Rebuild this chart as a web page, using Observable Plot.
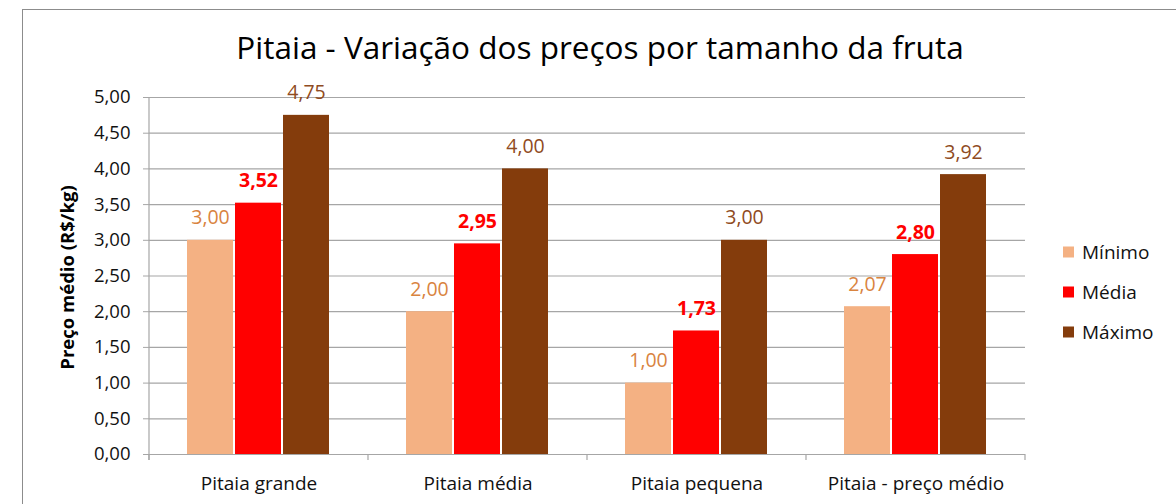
<!DOCTYPE html>
<html><head><meta charset="utf-8">
<script src="https://cdn.jsdelivr.net/npm/d3@7"></script>
<script src="https://cdn.jsdelivr.net/npm/@observablehq/plot@0.6"></script>
<style>
body{margin:0;background:#fff;}
#wrap{position:relative;width:1176px;height:504px;overflow:hidden;}
#border{position:absolute;left:22px;top:9px;width:1300px;height:700px;border:1.5px solid #8c8c8c;box-sizing:border-box;}
#chart{position:absolute;left:0;top:0;}
</style></head>
<body><div id="wrap"><div id="border"></div><div id="chart"></div></div>
<script>
const categories = ["Pitaia grande", "Pitaia média", "Pitaia pequena", "Pitaia - preço médio"];
const series = ["Mínimo", "Média", "Máximo"];
const minimo = [3.00, 2.00, 1.00, 2.07];
const media = [3.52, 2.95, 1.73, 2.80];
const maximo = [4.75, 4.00, 3.00, 3.92];
const yTicks = [0, 0.5, 1, 1.5, 2, 2.5, 3, 3.5, 4, 4.5, 5];
const barColors = ["#F4B183", "#FF0000", "#843C0C"];
const labelColors = ["#D9843F", "#FF0000", "#8F4B22"];
const titleText = "Pitaia - Variação dos preços por tamanho da fruta";
const yLabel = "Preço médio (R$/kg)";

const values = [minimo, media, maximo];
const data = categories.flatMap((c, i) => series.map((s, j) => ({cat: c, s, v: values[j][i]})));
const fmt = d => d.toFixed(2).replace(".", ",");
const font = "'Open Sans', sans-serif";

const labelMarks = series.map((s, j) => Plot.text(data.filter(d => d.s === s), {
  fx: "cat", x: "s", y: "v", text: d => fmt(d.v),
  fill: labelColors[j], fontWeight: s === "Média" ? "bold" : "normal",
  fontSize: 19.5, lineAnchor: "bottom", dy: -16
}));

const plot = Plot.plot({
  width: 1176, height: 504,
  marginLeft: 147, marginRight: 150, marginTop: 97, marginBottom: 50,
  style: {fontFamily: font, fontSize: "18px", color: "#000", background: "transparent", overflow: "visible"},
  fx: {domain: categories, padding: 0, label: null},
  x: {domain: series, paddingInner: 0.04, paddingOuter: 0.76, axis: null},
  y: {domain: [0, 5], label: null},
  color: {domain: series, range: barColors},
  marks: [
    Plot.ruleY(yTicks, {stroke: "#a6a6a6", strokeWidth: 1.2}),
    Plot.axisY({ticks: yTicks, tickFormat: fmt, tickSize: 6, tickPadding: 13, fontSize: 18.5, stroke: "#a6a6a6", fill: "#111", label: null}),
    Plot.axisFx({anchor: "bottom", tickSize: 0, tickPadding: 22, fontSize: 19, fill: "#111", label: null}),
    Plot.barY(data, {fx: "cat", x: "s", y: "v", fill: "s"}),
    ...labelMarks
  ]
});
document.getElementById("chart").appendChild(plot);

const svg = d3.select(plot);
const fx = plot.scale("fx");
const yS = plot.scale("y");
const y0 = yS.apply(0), y5 = yS.apply(5);
const left = fx.apply(categories[0]);
const step = fx.step;
// y axis line
svg.append("line").attr("x1", left).attr("x2", left).attr("y1", y5).attr("y2", y0 + 6)
  .attr("stroke", "#a6a6a6").attr("stroke-width", 1.2);
// bottom category tick marks
categories.concat([null]).forEach((c, i) => {
  const x = left + i * step;
  svg.append("line").attr("x1", x).attr("x2", x).attr("y1", y0).attr("y2", y0 + 6)
    .attr("stroke", "#a6a6a6").attr("stroke-width", 1.2);
});
// title
svg.append("text").attr("x", 600).attr("y", 59).attr("text-anchor", "middle")
  .attr("font-family", font).attr("font-size", 31.5).attr("fill", "#000").text(titleText);
// y label
svg.append("text").attr("transform", `translate(74,${(y0 + y5) / 2 + 2}) rotate(-90)`)
  .attr("text-anchor", "middle").attr("font-family", font).attr("font-size", 18.5)
  .attr("font-weight", "bold").attr("fill", "#000").text(yLabel);
// legend
const color = plot.scale("color");
series.forEach((s, i) => {
  const cy = 252 + i * 40;
  svg.append("rect").attr("x", 1063).attr("y", cy - 5.5).attr("width", 11).attr("height", 11)
    .attr("fill", color.apply(s));
  svg.append("text").attr("x", 1082).attr("y", cy).attr("dy", "0.35em").attr("text-anchor", "start")
    .attr("font-family", font).attr("font-size", 19).attr("fill", "#111").text(s);
});
</script>
</body></html>
